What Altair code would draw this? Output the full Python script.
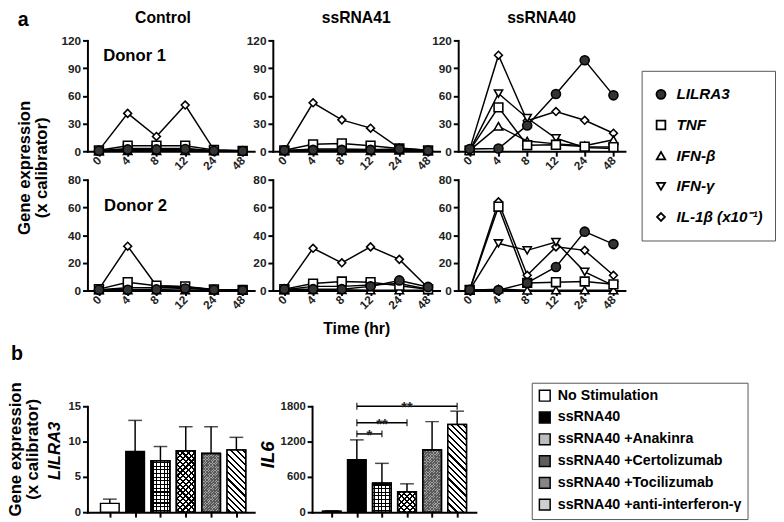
import math
import altair as alt
import pandas as pd

FONT = "Liberation Sans"

# ---------------- panel a data ----------------
times = ["0", "4", "8", "12", "24", "48"]
series = ["LILRA3", "TNF", "IFN-β", "IFN-γ", "IL-1β (x10⁻¹)"]
draw_order = ["IL-1β (x10⁻¹)", "IFN-γ", "IFN-β", "TNF", "LILRA3"]
shapes = ["circle", "square", "triangle-up", "triangle-down", "diamond"]
fills = ["#333333", "white", "white", "white", "white"]
sizes = [85, 64, 90, 90, 150]

control_d1 = {
    "LILRA3": [0.5, 2, 2, 2.5, 0.5, 0.3],
    "TNF": [1, 6, 6, 6, 1.5, 0.5],
    "IFN-β": [0.3, 0.5, 0.5, 0.5, 0.3, 0.2],
    "IFN-γ": [0.5, 3, 3, 3, 0.5, 0.3],
    "IL-1β (x10⁻¹)": [1, 41, 16, 50, 1.5, 0.5],
}
ssrna41_d1 = {
    "LILRA3": [1, 1.5, 1.5, 1.5, 2.5, 0.8],
    "TNF": [1, 7.5, 8.5, 6, 3, 1],
    "IFN-β": [0.5, 0.5, 0.5, 0.5, 1, 0.3],
    "IFN-γ": [0.5, 2.5, 2.5, 2, 2, 0.5],
    "IL-1β (x10⁻¹)": [1, 52.5, 34, 25, 3.5, 1],
}
ssrna40_d1 = {
    "LILRA3": [2.5, 3, 28, 62, 98.5, 60.5],
    "TNF": [1, 47.5, 6.5, 7, 5, 4.5],
    "IFN-β": [1, 27, 11, 8, 6, 12.5],
    "IFN-γ": [1, 62.5, 36, 14, 4, 3],
    "IL-1β (x10⁻¹)": [2, 104, 33, 43, 33.5, 19.5],
}
control_d2 = {
    "LILRA3": [0.5, 0.5, 0.8, 1.5, 0.5, 0.3],
    "TNF": [1, 6, 3.5, 3, 0.8, 0.5],
    "IFN-β": [0.3, 0.3, 0.3, 0.3, 0.2, 0.2],
    "IFN-γ": [0.5, 2, 2, 2.5, 0.5, 0.3],
    "IL-1β (x10⁻¹)": [1, 32, 3.5, 2.5, 0.5, 0.3],
}
ssrna41_d2 = {
    "LILRA3": [1, 1, 1, 3, 7.3, 2.6],
    "TNF": [1, 5, 6.5, 6, 3.5, 1],
    "IFN-β": [0.3, 0.5, 0.5, 0.3, 0.3, 0.3],
    "IFN-γ": [0.5, 3, 3, 4, 5, 1],
    "IL-1β (x10⁻¹)": [1, 30.5, 20, 31.5, 22.5, 2],
}
ssrna40_d2 = {
    "LILRA3": [0.5, 0.3, 5.5, 17, 42.5, 33.5],
    "TNF": [0.5, 60.5, 5.5, 6, 6.5, 4.5],
    "IFN-β": [0.2, 1, 0.2, 0.3, 0.3, 0.3],
    "IFN-γ": [0.5, 34, 29, 35, 13.5, 3.5],
    "IL-1β (x10⁻¹)": [0.5, 64, 11, 31.5, 29, 11],
}
top_ticks = [0, 30, 60, 90, 120]
bottom_ticks = [0, 20, 40, 60, 80]

# ---------------- panel b data ----------------
treatments = ["No Stimulation", "ssRNA40", "ssRNA40 +Anakinra", "ssRNA40 +Certolizumab",
              "ssRNA40 +Tocilizumab", "ssRNA40 +anti-interferon-γ"]
swatch = ["white", "black", "#bdbdbd", "#5e5e5e", "#858585", "#cfcfcf"]
lilra3_mean = [1.25, 8.6, 7.3, 8.7, 8.3, 8.8]
lilra3_err = [0.6, 4.4, 2.0, 3.4, 3.8, 1.8]
il6_mean = [20, 890, 493, 349, 1058, 1490]
il6_err = [5, 339, 337, 133, 481, 227]
lilra3_ticks = [0, 5, 10, 15]
il6_ticks = [0, 600, 1200, 1800]
bracket_from = [1, 1, 1]
bracket_to = [2, 3, 5]
bracket_y = [1330, 1520, 1800]
bracket_star = ["*", "**", "**"]

ONE = pd.DataFrame({"k": [0]})


def note(text, x, y, size, angle=0, align="left", style="normal", line_height=None):
    kw = dict(text=text, font=FONT, fontSize=size, fontWeight="bold", fontStyle=style,
              align=align, baseline="alphabetic", fill="black")
    if angle:
        kw["angle"] = angle
    if line_height:
        kw["lineHeight"] = line_height
    return alt.Chart(ONE).mark_text(**kw).encode(x=alt.value(x), y=alt.value(y))


def line_unit(d, ymax, yticks, title=None, title_dx=0, legend=False, xtitle=None, notes=()):
    rows = []
    for s in draw_order:
        for i, t in enumerate(times):
            rows.append({"time": t, "ti": i, "series": s, "value": d[s][i]})
    df = pd.DataFrame(rows)
    base = alt.Chart(df)
    xax = alt.Axis(title=xtitle, labelAngle=315, labelAlign="right", labelBaseline="middle",
                   labelPadding=2, labelFontSize=12, titleFont=FONT, titleFontSize=16,
                   titleFontWeight="bold", titleColor="black", titleY=44,
                   titleBaseline="alphabetic")
    x = alt.X("time:O", sort=times, scale=alt.Scale(type="point", padding=0.4), axis=xax)
    y = alt.Y("value:Q", scale=alt.Scale(domain=[0, ymax], nice=False),
              axis=alt.Axis(values=yticks, title=None, labelFontSize=12))
    leg = None
    if legend:
        leg = alt.Legend(orient="none", legendX=187, legendY=31, title=None,
                         strokeColor="#555555", fillColor="white", padding=12,
                         rowPadding=7.25, clipHeight=24, labelFont=FONT, labelFontSize=15.5,
                         labelFontStyle="italic", labelFontWeight="bold",
                         labelColor="black", labelOffset=8, labelLimit=0,
                         symbolStrokeWidth=1.8)
    line = base.mark_line(color="black", strokeWidth=1.5).encode(
        x=x, y=y, detail="series:N", order="ti:Q")
    pts = base.mark_point(filled=True, strokeWidth=1.6, opacity=1).encode(
        x=x, y=y,
        shape=alt.Shape("series:N", scale=alt.Scale(domain=series, range=shapes), legend=leg),
        fill=alt.Fill("series:N", scale=alt.Scale(domain=series, range=fills), legend=leg),
        stroke=alt.Stroke("series:N", scale=alt.Scale(domain=series, range=["black"] * 5),
                          legend=leg),
        size=alt.Size("series:N", scale=alt.Scale(domain=series, range=sizes), legend=leg),
    )
    layers = [line, pts] + list(notes)
    props = dict(width=170, height=113)
    if title:
        props["title"] = alt.TitleParams(title, font=FONT, fontSize=16, fontWeight="bold",
                                         color="black", anchor="middle", frame="group",
                                         offset=9, dx=title_dx)
    return alt.layer(*layers).properties(**props)


def stripe_stops(n, frac, fg, bg):
    stops = [{"offset": 0, "color": bg}]
    half = frac / (2 * n)
    for k in range(n):
        c = (k + 0.5) / n
        a, b = round(c - half, 4), round(c + half, 4)
        stops += [{"offset": a, "color": bg}, {"offset": a, "color": fg},
                  {"offset": b, "color": fg}, {"offset": b, "color": bg}]
    stops.append({"offset": 1, "color": bg})
    return stops


CLEAR = "rgba(0,0,0,0)"
BAR_W = 19
PLOT_H = 108


def vlines(period, frac, fg, bg):
    n = max(1, round(BAR_W / period))
    return {"gradient": "linear", "x1": 0, "y1": 0, "x2": 1, "y2": 0,
            "stops": stripe_stops(n, frac, fg, bg)}


def hlines(h, period, frac, fg, bg):
    n = max(1, round(h / period))
    return {"gradient": "linear", "x1": 0, "y1": 0, "x2": 0, "y2": 1,
            "stops": stripe_stops(n, frac, fg, bg)}


def diag(h, period, frac, fg, bg, back=True):
    w = BAR_W
    s = (w + h) / (w * w + h * h)
    n = max(1, round((w + h) / (math.sqrt(2) * period)))
    if back:  # "\" lines
        x1, y1, x2, y2 = 0, 1, s * w, 1 - s * h
    else:     # "/" lines
        x1, y1, x2, y2 = 0, 0, s * w, s * h
    return {"gradient": "linear", "x1": x1, "y1": y1, "x2": round(x2, 4), "y2": round(y2, 4),
            "stops": stripe_stops(n, frac, fg, bg)}


def bar_unit(means, errs, ymax, yticks, xdomain, ytitle, tsize, tx, ty, legend=False,
             brackets=False, notes=()):
    df = pd.DataFrame({"treat": treatments, "idx": list(range(len(treatments))),
                       "mean": means, "top": [m + e for m, e in zip(means, errs)]})
    base = alt.Chart(df)
    xax = alt.Axis(values=list(range(len(treatments))), labels=False, title=None)
    xs = alt.Scale(domain=xdomain, nice=False, zero=False)
    yax = alt.Axis(values=yticks, format="d", title=ytitle, titleFont=FONT,
                   titleFontStyle="italic", titleFontWeight="bold", titleFontSize=tsize,
                   titleColor="black", titleAngle=270, titleX=tx, titleY=ty,
                   titleAlign="center", titleBaseline="alphabetic", labelFontSize=11.5)
    ys = alt.Scale(domain=[0, ymax], nice=False)

    def X(f):
        return alt.X(f, scale=xs, axis=xax)

    def Y(f):
        return alt.Y(f, scale=ys, axis=yax)

    leg = None
    if legend:
        leg = alt.Legend(orient="none", legendX=224, legendY=-24, title=None,
                         strokeColor="#555555", fillColor="white", padding=6,
                         rowPadding=4.2, labelFont=FONT, labelFontSize=14.5,
                         labelFontWeight="bold", labelColor="black", labelOffset=6,
                         labelLimit=0, symbolType="square", symbolSize=121,
                         symbolStrokeColor="black", symbolStrokeWidth=1.5)
    bars = base.mark_bar(size=BAR_W, orient="vertical", stroke="black", strokeWidth=1.5).encode(
        x=X("idx:Q"), y=Y("mean:Q"),
        fill=alt.Fill("treat:N", scale=alt.Scale(domain=treatments, range=swatch), legend=leg))
    layers = [bars]

    def over(k, grad):
        return base.transform_filter(alt.datum.idx == k).mark_bar(
            size=BAR_W, orient="vertical", fill=grad, stroke="black", strokeWidth=1.5
        ).encode(x=X("idx:Q"), y=Y("mean:Q"))

    hpx = [m / ymax * PLOT_H for m in means]
    # Anakinra: grid
    layers.append(over(2, vlines(3.8, 0.3, "black", "white")))
    layers.append(over(2, hlines(hpx[2], 3.8, 0.3, "black", CLEAR)))
    # Certolizumab: cross hatch
    layers.append(over(3, diag(hpx[3], 4.0, 0.38, "black", "white", back=False)))
    layers.append(over(3, diag(hpx[3], 4.0, 0.38, "black", CLEAR, back=True)))
    # Tocilizumab: fine stipple
    layers.append(over(4, diag(hpx[4], 2.0, 0.5, "#5a5a5a", "#a0a0a0", back=False)))
    layers.append(over(4, diag(hpx[4], 2.0, 0.3, "#5a5a5a", CLEAR, back=True)))
    # anti-interferon: diagonal hatch
    layers.append(over(5, diag(hpx[5], 4.6, 0.34, "black", "white", back=True)))

    err = base.mark_rule(color="black", strokeWidth=1.5).encode(
        x=X("idx:Q"), y=Y("mean:Q"), y2="top:Q")
    cap = base.mark_tick(orient="horizontal", size=14, thickness=1.5, color="black").encode(
        x=X("idx:Q"), y=Y("top:Q"))
    layers += [err, cap]

    if brackets:
        bdf = pd.DataFrame({"a": bracket_from, "b": bracket_to, "yv": bracket_y,
                            "star": bracket_star})
        bb = alt.Chart(bdf).transform_calculate(mid="(datum.a + datum.b) / 2")
        layers.append(bb.mark_rule(color="black", strokeWidth=1.5).encode(
            x=X("a:Q"), x2="b:Q", y=Y("yv:Q")))
        layers.append(bb.transform_fold(["a", "b"], as_=["end", "xe"]).mark_tick(
            orient="vertical", size=7, thickness=1.5, color="black").encode(
            x=X("xe:Q"), y=Y("yv:Q")))
        layers.append(bb.mark_text(font=FONT, fontSize=15, fontWeight="bold", fill="#222222",
                                   baseline="alphabetic", dy=6).encode(
            x=X("mid:Q"), y=Y("yv:Q"), text="star:N"))
    layers += list(notes)
    return alt.layer(*layers).properties(width=170 if not brackets else 167, height=PLOT_H)


ge_text = ["Gene expression", "(x calibrator)"]

c1 = line_unit(control_d1, 120, top_ticks, title="Control", title_dx=-8, notes=[
    note("Donor 1", 16, 21, 17),
    note(ge_text, -59, 130, 17, angle=270, align="center", line_height=18),
])
s41_1 = line_unit(ssrna41_d1, 120, top_ticks, title="ssRNA41")
s40_1 = line_unit(ssrna40_d1, 120, top_ticks, title="ssRNA40", legend=True)
c2 = line_unit(control_d2, 80, bottom_ticks, notes=[
    note("Donor 2", 17, 32, 17),
    note("a", -71, -157, 20),
])
s41_2 = line_unit(ssrna41_d2, 80, bottom_ticks, xtitle="Time (hr)")
s40_2 = line_unit(ssrna40_d2, 80, bottom_ticks)

block_a = alt.concat(c1, s41_1, s40_1, c2, s41_2, s40_2, columns=3,
                     spacing={"row": 29, "column": 19}, bounds="flush").resolve_scale(
    shape="independent", fill="independent", size="independent", stroke="independent")

lil = bar_unit(lilra3_mean, lilra3_err, 15, lilra3_ticks, [-0.69, 5.51], "LILRA3", 17, -28, 45,
               notes=[note("b", -78, -47, 20),
                      note(ge_text, -68, 44, 17, angle=270, align="center", line_height=18)])
il6 = bar_unit(il6_mean, il6_err, 1800, il6_ticks, [-0.59, 5.55], "IL6", 19, -39, 49,
               legend=True, brackets=True)

block_b = alt.hconcat(lil, il6, spacing=59, bounds="flush").resolve_scale(fill="independent")

chart = alt.vconcat(
    block_a, block_b, spacing=8,
    padding={"top": -3, "left": -2, "right": 0, "bottom": 0}, background="white"
).configure_view(
    stroke=None
).configure_axis(
    domainColor="black", domainWidth=2, domainCap="square", tickColor="black", tickWidth=2,
    tickSize=5, labelFont=FONT, labelFontWeight="bold", labelColor="#222222", grid=False,
)

chart.save("out.html", embed_options={"renderer": "svg", "actions": False})
